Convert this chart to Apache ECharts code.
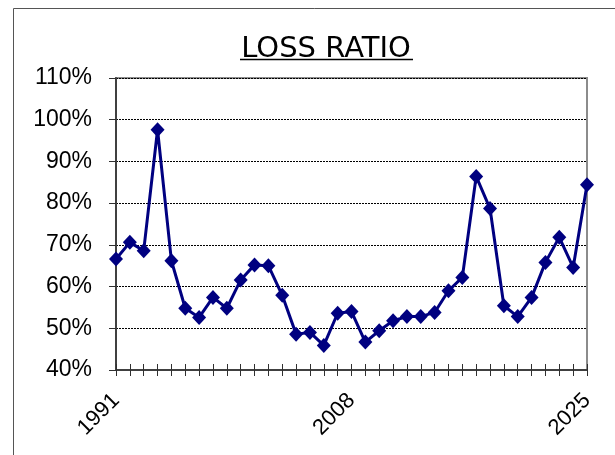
<!DOCTYPE html>
<html>
<head>
<meta charset="utf-8">
<script src="https://cdn.jsdelivr.net/npm/echarts@6/dist/echarts.min.js"></script>
<style>
  html, body { margin: 0; padding: 0; background: #fff; }
  #chart { width: 615px; height: 455px; }
</style>
</head>
<body>
<div id="chart"></div>
<script>
const years = [
  '1991', '1992', '1993', '1994', '1995', '1996', '1997', '1998', '1999', '2000',
  '2001', '2002', '2003', '2004', '2005', '2006', '2007', '2008', '2009', '2010',
  '2011', '2012', '2013', '2014', '2015', '2016', '2017', '2018', '2019', '2020',
  '2021', '2022', '2023', '2024', '2025'
];
const lossRatio = [
  66.6, 70.6, 68.6, 97.6, 66.2, 54.8, 52.6, 57.4, 54.8, 61.6,
  65.2, 65.0, 57.9, 48.6, 49.0, 45.9, 53.6, 54.0, 46.7, 49.4,
  51.8, 52.8, 52.8, 53.8, 59.0, 62.2, 86.4, 78.7, 55.4, 52.8,
  57.4, 65.8, 71.8, 64.6, 84.4
];
const labelYears = ['1991', '2008', '2025'];
const yTicks = [40, 50, 60, 70, 80, 90, 100, 110];

const axisFont = "'Liberation Sans', Arial, sans-serif";
const chart = echarts.init(document.getElementById('chart'));

const allTicks = () => true;
const plotBox = { left: 116, right: 28, top: 78, bottom: 85 };
const tickStyle = { color: '#303030', width: 1 };

const option = {
  backgroundColor: '#fff',
  animation: false,
  graphic: [
    {
      type: 'rect',
      shape: { x: 13.5, y: 8.5, width: 700, height: 500 },
      style: { fill: 'none', stroke: '#555', lineWidth: 1 },
      silent: true
    },
    {
      type: 'text',
      x: 326, y: 49,
      style: {
        text: 'LOSS RATIO',
        font: "29px 'DejaVu Sans', Verdana, sans-serif",
        fill: '#000',
        align: 'center',
        verticalAlign: 'middle'
      }
    },
    {
      type: 'line',
      shape: { x1: 240, y1: 59.5, x2: 413, y2: 59.5 },
      style: { stroke: '#000', lineWidth: 1.5 }
    }
  ],
  grid: [
    Object.assign({ show: true, borderColor: '#8c8c8c', borderWidth: 2 }, plotBox),
    // twin grid, only used for the lower half of the crossing x ticks
    Object.assign({ show: false }, plotBox)
  ],
  xAxis: [
    {
      type: 'category',
      data: years,
      position: 'bottom',
      boundaryGap: false,
      axisLine: { onZero: false, lineStyle: { color: '#404040', width: 2 } },
      axisTick: { show: true, inside: true, length: 6, interval: allTicks, lineStyle: tickStyle },
      axisLabel: {
        interval: (i, v) => labelYears.indexOf(v) >= 0,
        rotate: 45,
        margin: 27,
        color: '#000',
        fontSize: 22,
        fontFamily: axisFont
      },
      splitLine: { show: false }
    },
    {
      type: 'category',
      gridIndex: 1,
      data: years,
      position: 'bottom',
      boundaryGap: false,
      axisLine: { show: false, onZero: false },
      axisTick: { show: true, inside: false, length: 6, interval: allTicks, lineStyle: tickStyle },
      axisLabel: { show: false },
      splitLine: { show: false }
    }
  ],
  yAxis: [
    {
      type: 'value',
      min: yTicks[0],
      max: yTicks[yTicks.length - 1],
      interval: 10,
      axisLine: { show: true, onZero: false, lineStyle: { color: '#404040', width: 2 } },
      axisTick: { show: true, length: 7, lineStyle: tickStyle },
      axisLabel: {
        formatter: '{value}%',
        margin: 24,
        color: '#000',
        fontSize: 23,
        fontFamily: axisFont
      },
      splitLine: { show: true, lineStyle: { color: '#000', type: [2, 1], width: 1 } }
    },
    {
      type: 'value',
      gridIndex: 1,
      min: yTicks[0],
      max: yTicks[yTicks.length - 1],
      show: false
    }
  ],
  series: [{
    type: 'line',
    data: lossRatio,
    xAxisIndex: 0,
    yAxisIndex: 0,
    symbol: 'diamond',
    symbolSize: [14, 15],
    showAllSymbol: true,
    itemStyle: { color: '#000080' },
    lineStyle: { color: '#000080', width: 3 }
  }]
};
chart.setOption(option);
</script>
</body>
</html>
